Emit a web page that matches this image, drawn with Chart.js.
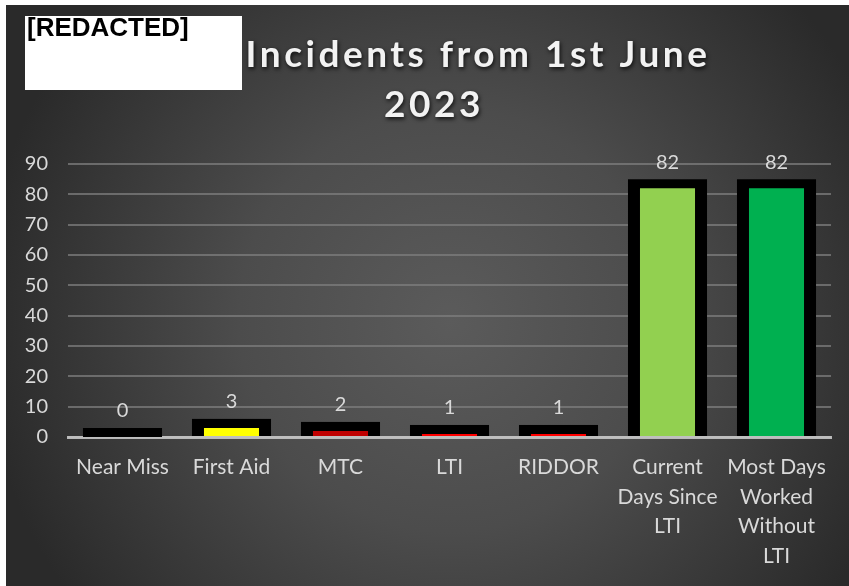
<!DOCTYPE html>
<html>
<head>
<meta charset="utf-8">
<script src="https://cdn.jsdelivr.net/npm/chart.js@4.4.1/dist/chart.umd.min.js"></script>
<style>
html,body{margin:0;padding:0;background:#fff;}
canvas{display:block;}
</style>
</head>
<body>
<canvas id="c" width="849" height="586"></canvas>
<script>
const categories = [
  ['Near Miss'],
  ['First Aid'],
  ['MTC'],
  ['LTI'],
  ['RIDDOR'],
  ['Current', 'Days Since', 'LTI'],
  ['Most Days', 'Worked', 'Without', 'LTI']
];
const values = [0, 3, 2, 1, 1, 82, 82];
const barColors = ['#000000', '#FFFF00', '#C00000', '#FF0000', '#FF0000', '#92D050', '#00B050'];
const titleLines = ['Incidents from 1st June', '2023'];
const redactedText = '[REDACTED]';
const yMin = 0, yMax = 90, yStep = 10;

const textColor = '#D9D9D9';
const FONT = 'Lato, "Open Sans", sans-serif';

const bgPlugin = {
  id: 'bg',
  beforeDraw(chart) {
    const ctx = chart.ctx, w = chart.width, h = chart.height;
    ctx.save();
    ctx.fillStyle = '#ffffff';
    ctx.fillRect(0, 0, w, h);
    const g = ctx.createRadialGradient(450, 320, 0, 450, 320, 470);
    g.addColorStop(0, '#5b5b5b');
    g.addColorStop(0.45, '#4c4c4c');
    g.addColorStop(1, '#2a2a2a');
    ctx.fillStyle = g;
    ctx.fillRect(6, 5, w - 6, h - 5);
    ctx.restore();
  }
};

const frameBars = {
  id: 'frameBars',
  beforeDatasetsDraw(chart) {
    const ctx = chart.ctx;
    const meta = chart.getDatasetMeta(0);
    ctx.save();
    ctx.fillStyle = '#000000';
    meta.data.forEach(el => {
      const padX = 12, padTop = 9;
      const left = el.x - el.width / 2 - padX;
      const top = el.y - padTop;
      ctx.fillRect(left, top, el.width + 2 * padX, el.base - top);
    });
    ctx.restore();
  },
  afterDatasetsDraw(chart) {
    const ctx = chart.ctx;
    const meta = chart.getDatasetMeta(0);
    ctx.save();
    ctx.fillStyle = textColor;
    ctx.font = '20px ' + FONT;
    ctx.textAlign = 'center';
    ctx.textBaseline = 'middle';
    meta.data.forEach((el, i) => {
      ctx.fillText(String(values[i]), el.x, el.y - 9 - 17);
    });
    ctx.restore();
  }
};

const titlePlugin = {
  id: 'titleDraw',
  afterDraw(chart) {
    const ctx = chart.ctx;
    ctx.save();
    // redacted box
    ctx.fillStyle = '#ffffff';
    ctx.fillRect(25, 16, 217, 74);
    ctx.fillStyle = '#000000';
    ctx.font = 'bold 26px "Liberation Sans", Arial, sans-serif';
    ctx.textAlign = 'left';
    ctx.textBaseline = 'top';
    ctx.fillText(redactedText, 27, 16);
    // title
    ctx.font = 'bold 37px ' + FONT;
    ctx.textAlign = 'center';
    ctx.textBaseline = 'middle';
    try { ctx.letterSpacing = '3.5px'; } catch (e) {}
    ctx.shadowColor = 'rgba(0,0,0,0.8)';
    ctx.shadowBlur = 4;
    ctx.shadowOffsetX = 1;
    ctx.shadowOffsetY = 2;
    ctx.fillStyle = '#F2F2F2';
    ctx.fillText(titleLines[0], 478, 55);
    ctx.fillText(titleLines[1], 434, 105);
    ctx.restore();
  }
};

new Chart(document.getElementById('c'), {
  type: 'bar',
  data: {
    labels: categories,
    datasets: [{
      data: values,
      backgroundColor: barColors,
      borderWidth: 0,
      barPercentage: 0.505,
      categoryPercentage: 1
    }]
  },
  options: {
    responsive: false,
    devicePixelRatio: 1,
    animation: false,
    layout: { padding: { top: 164, right: 18, left: 0, bottom: 0 } },
    plugins: { legend: { display: false }, tooltip: { enabled: false }, title: { display: false } },
    scales: {
      x: {
        z: 1,
        grid: { display: false, drawTicks: false },
        border: { display: true, color: 'rgba(200,200,200,0.9)', width: 3 },
        ticks: { color: textColor, font: { family: FONT, size: 21, lineHeight: 1.4 }, padding: 16, maxRotation: 0, autoSkip: false },
        afterFit(scale) { scale.height = 149; }
      },
      y: {
        min: yMin, max: yMax,
        grid: { color: 'rgba(125,125,125,0.75)', lineWidth: 2, drawTicks: false },
        border: { display: false },
        ticks: { stepSize: yStep, color: textColor, font: { family: FONT, size: 20 }, padding: 20 },
        afterFit(scale) { scale.width = 68; }
      }
    }
  },
  plugins: [bgPlugin, frameBars, titlePlugin]
});
</script>
</body>
</html>
